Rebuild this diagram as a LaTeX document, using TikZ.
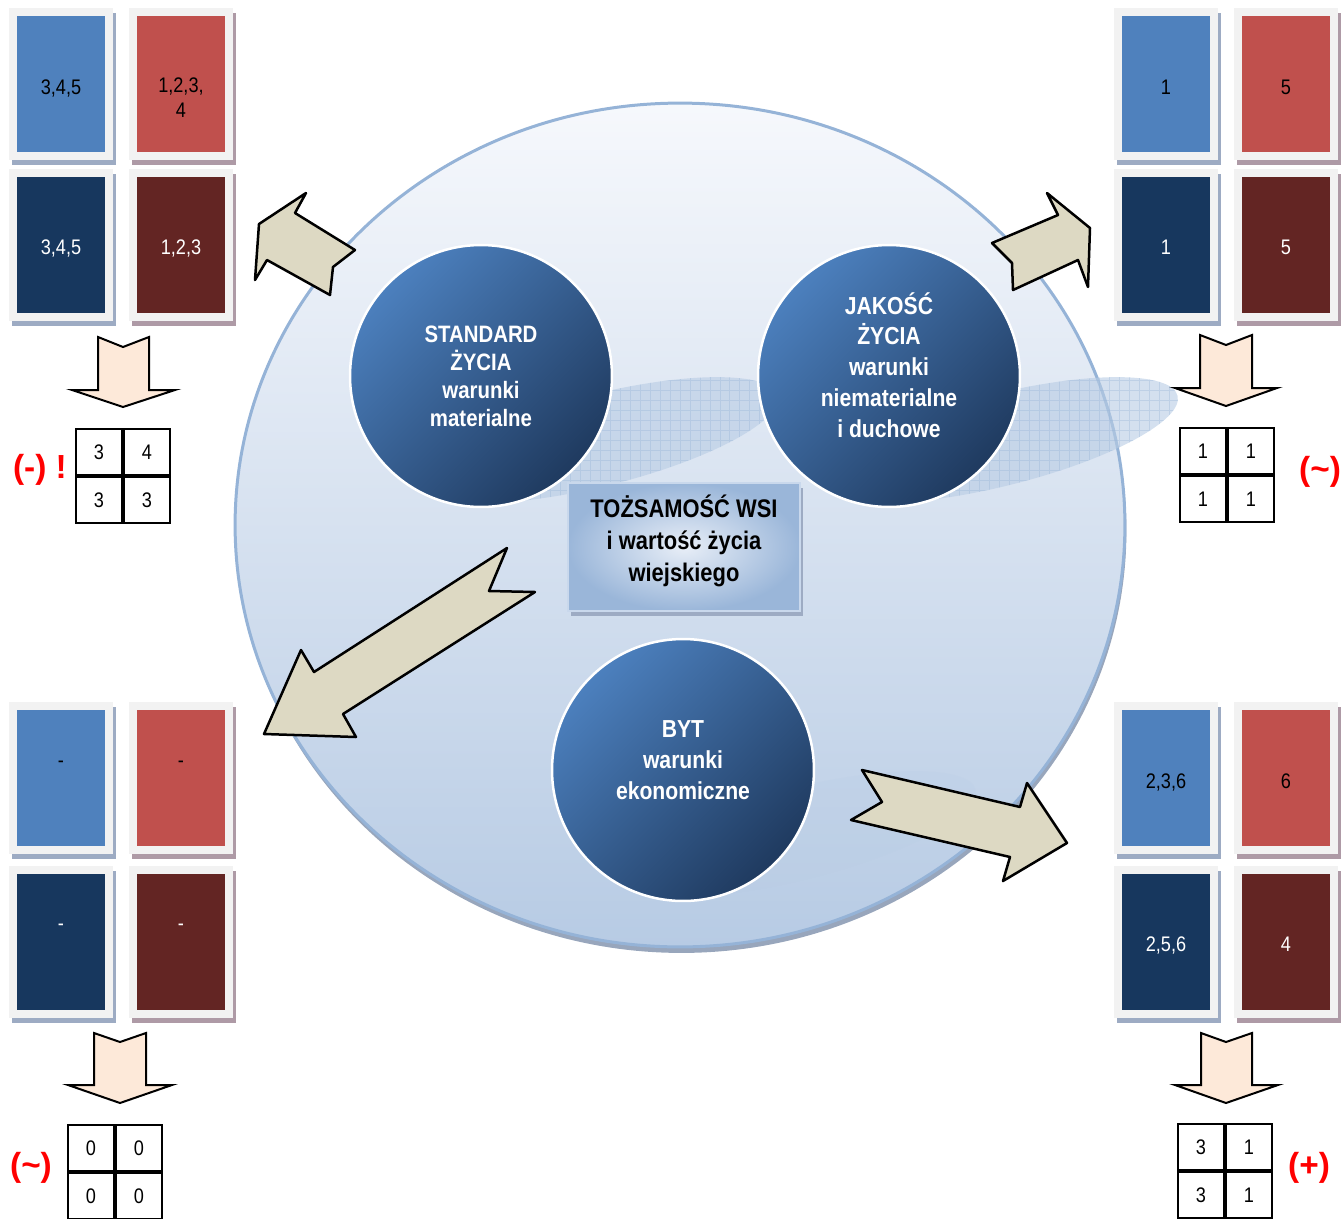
\documentclass[tikz,border=0pt]{standalone}
\usepackage{fontspec}
\setmainfont{Liberation Sans}
\newfontfamily\narrowfont[FakeStretch=0.86]{Liberation Sans}
\usetikzlibrary{shapes.geometric, positioning, shadows}

\definecolor{cardblue}{HTML}{4F81BD}
\definecolor{cardred}{HTML}{C0504D}
\definecolor{carddblue}{HTML}{17375E}
\definecolor{carddred}{HTML}{632523}
\definecolor{framegray}{HTML}{F2F2F2}
\definecolor{shadeblue}{HTML}{9DABC3}
\definecolor{shadered}{HTML}{AE9AA6}
\definecolor{globeedge}{HTML}{95B3D7}
\definecolor{globetop}{HTML}{F6F8FC}
\definecolor{globelow}{HTML}{B7CBE4}
\definecolor{globeshadow}{HTML}{98A6BC}
\definecolor{discblue}{HTML}{B8CCE4}
\definecolor{orbblue}{HTML}{4C80BE}
\definecolor{orbdark}{HTML}{1F3A5F}
\definecolor{idlight}{HTML}{E8EEF7}
\definecolor{iddark}{HTML}{9AB6D9}
\definecolor{idedge}{HTML}{C9D8EC}
\definecolor{beige}{HTML}{DDD9C3}
\definecolor{peach}{HTML}{FDE9D9}

\tikzstyle{card} = [rectangle, minimum width=1.92cm, minimum height=2.88cm, inner sep=0pt, draw=framegray, line width=0.16cm, text centered, align=center, text height=0.4cm, text depth=0cm, font=\narrowfont\fontsize{12}{14}\selectfont]
\tikzstyle{bluecard} = [card, fill=cardblue, general shadow={draw=shadeblue, fill=shadeblue, line width=0.16cm, shadow xshift=0.06cm, shadow yshift=-0.1cm}]
\tikzstyle{redcard} = [card, fill=cardred, general shadow={draw=shadered, fill=shadered, line width=0.16cm, shadow xshift=0.06cm, shadow yshift=-0.1cm}]
\tikzstyle{dbluecard} = [bluecard, fill=carddblue, text=white]
\tikzstyle{dredcard} = [redcard, fill=carddred, text=white]
\tikzstyle{globe} = [ellipse, minimum width=17.8cm, minimum height=16.88cm, inner sep=0pt, draw=globeedge, line width=0.06cm, general shadow={fill=globeshadow, shadow xshift=0.03cm, shadow yshift=-0.12cm}, top color=globetop, bottom color=globelow]
\tikzstyle{orb} = [circle, minimum size=5.24cm, inner sep=0pt, draw=white, line width=0.05cm, top color=orbblue, bottom color=orbdark, shading angle=45, text=white, align=center, font=\narrowfont\bfseries\fontsize{14}{17.6}\selectfont]
\tikzstyle{idbox} = [rectangle, minimum width=4.66cm, minimum height=2.56cm, inner sep=0pt, draw=idedge, line width=0.04cm, general shadow={fill=shadeblue, shadow xshift=0.06cm, shadow yshift=-0.1cm}, inner color=idlight, outer color=iddark, align=center, font=\narrowfont\bfseries\fontsize{14.5}{18.2}\selectfont]
\tikzstyle{disc} = [fill=discblue, opacity=0.6]
\tikzstyle{discgrid} = [globeedge, opacity=0.35]
\tikzstyle{cell} = [rectangle, draw=black, line width=0.04cm, minimum size=0.92cm, inner sep=0pt, font=\narrowfont\fontsize{12}{14}\selectfont]
\tikzstyle{note} = [text=red, font=\bfseries\fontsize{19}{22}\selectfont]
\tikzstyle{bigarrow} = [draw=black, line width=0.05cm, fill=beige, line join=round]
\tikzstyle{downarrow} = [draw=black, line width=0.04cm, fill=peach]

\begin{document}
\begin{tikzpicture}[x=0.02cm, y=-0.02cm, node distance=2.4cm]

\path[use as bounding box, clip] (0,0) rectangle (1343,1218);

% Globe
\node (globe) [globe] at (680,525) {};

% Discs under the orbs
\fill[disc, rotate around={14:(600,440)}] (600,440) ellipse [x radius=183, y radius=46];
\fill[disc, rotate around={14:(1000,440)}] (1000,440) ellipse [x radius=183, y radius=46];
\fill[disc, opacity=0.2, rotate around={14:(798,834)}] (798,834) ellipse [x radius=183, y radius=46];
\begin{scope}
\clip[rotate around={14:(600,440)}] (600,440) ellipse [x radius=183, y radius=46];
\draw[discgrid, step=0.2cm] (400,360) grid (800,520);
\end{scope}
\begin{scope}
\clip[rotate around={14:(1000,440)}] (1000,440) ellipse [x radius=183, y radius=46];
\draw[discgrid, step=0.2cm] (800,360) grid (1200,520);
\end{scope}

% Orbs
\node (standard) [orb, font=\narrowfont\bfseries\fontsize{13.5}{16}\selectfont] at (481,376) {STANDARD\\ŻYCIA\\warunki\\materialne};
\node (quality) [orb, text depth=0.44cm] at (889,376) {JAKOŚĆ\\ŻYCIA\\warunki\\niematerialne\\i duchowe};
\node (living) [orb, text depth=0.4cm] at (683,770) {BYT\\warunki\\ekonomiczne};

% Identity
\node (identity) [idbox, text depth=0.34cm] at (684,547) {TOŻSAMOŚĆ WSI\\i wartość życia\\wiejskiego};

% Big arrows
\draw [bigarrow] (259,224) -- (306,193) -- (295,213) -- (355,250) -- (333,267) -- (330,295) -- (267,260) -- (255,280) -- cycle;
\draw [bigarrow] (992,243) -- (1058,215) -- (1047,193) -- (1090,228) -- (1088,287) -- (1078,260) -- (1013,290) -- (1012,263) -- cycle;
\draw [bigarrow] (507,548) -- (489,591) -- (535,592) -- (343,714) -- (356,737) -- (264,734) -- (301,650) -- (314,672) -- cycle;
\draw [bigarrow] (862,770) -- (882,802) -- (851,820) -- (1010,857) -- (1003,881) -- (1067,843) -- (1027,783) -- (1020,807) -- cycle;

% Standard cards
\node (stdblue) [bluecard] at (61,84) {3,4,5};
\node (stdred) [redcard, right of=stdblue, text height=, text depth=] {\strut\\1,2,3,\\4};
\node (stddblue) [dbluecard, below of=stdblue, yshift=-0.82cm] {3,4,5};
\node (stddred) [dredcard, right of=stddblue] {1,2,3};

% Quality cards
\node (qblue) [bluecard] at (1166,84) {1};
\node (qred) [redcard, right of=qblue] {5};
\node (qdblue) [dbluecard, below of=qblue, yshift=-0.82cm] {1};
\node (qdred) [dredcard, right of=qdblue] {5};

% Empty cards
\node (eblue) [bluecard, text depth=0.84cm] at (61,778) {-};
\node (ered) [redcard, right of=eblue, text depth=0.84cm] {-};
\node (edblue) [dbluecard, below of=eblue, yshift=-0.88cm, text depth=0.84cm] {-};
\node (edred) [dredcard, right of=edblue, text depth=0.84cm] {-};

% Living cards
\node (lblue) [bluecard] at (1166,778) {2,3,6};
\node (lred) [redcard, right of=lblue] {6};
\node (ldblue) [dbluecard, below of=lblue, yshift=-0.88cm] {2,5,6};
\node (ldred) [dredcard, right of=ldblue] {4};

% Down arrows
\draw [downarrow] (98,337) -- ++(25,10) -- ++(26,-10) -- ++(0,53) -- ++(26,0) -- ++(-52,17) -- ++(-51,-17) -- ++(26,0) -- cycle;
\draw [downarrow] (1200,335) -- ++(26,10) -- ++(26,-10) -- ++(0,53) -- ++(25,0) -- ++(-51,18) -- ++(-51,-18) -- ++(25,0) -- cycle;
\draw [downarrow] (94,1033) -- ++(26,9) -- ++(26,-9) -- ++(0,52) -- ++(26,0) -- ++(-52,18) -- ++(-52,-18) -- ++(26,0) -- cycle;
\draw [downarrow] (1201,1033) -- ++(25,9) -- ++(26,-9) -- ++(0,52) -- ++(26,0) -- ++(-52,18) -- ++(-51,-18) -- ++(26,0) -- cycle;

% Tables
\node (sa) [cell] at (99,452) {3};
\node (sb) [cell, right of=sa, node distance=0.96cm] {4};
\node (sc) [cell, below of=sa, node distance=0.96cm] {3};
\node (sd) [cell, right of=sc, node distance=0.96cm] {3};

\node (qa) [cell] at (1203,451) {1};
\node (qb) [cell, right of=qa, node distance=0.96cm] {1};
\node (qc) [cell, below of=qa, node distance=0.96cm] {1};
\node (qd) [cell, right of=qc, node distance=0.96cm] {1};

\node (ea) [cell] at (91,1148) {0};
\node (eb) [cell, right of=ea, node distance=0.96cm] {0};
\node (ec) [cell, below of=ea, node distance=0.96cm] {0};
\node (ed) [cell, right of=ec, node distance=0.96cm] {0};

\node (la) [cell] at (1201,1147) {3};
\node (lb) [cell, right of=la, node distance=0.96cm] {1};
\node (lc) [cell, below of=la, node distance=0.96cm] {3};
\node (ld) [cell, right of=lc, node distance=0.96cm] {1};

% Ratings
\node (snote) [note] at (40,470) {(-) !};
\node (qnote) [note] at (1320,472) {(\textasciitilde)};
\node (enote) [note] at (31,1168) {(\textasciitilde)};
\node (lnote) [note] at (1309,1168) {(+)};

\end{tikzpicture}
\end{document}
